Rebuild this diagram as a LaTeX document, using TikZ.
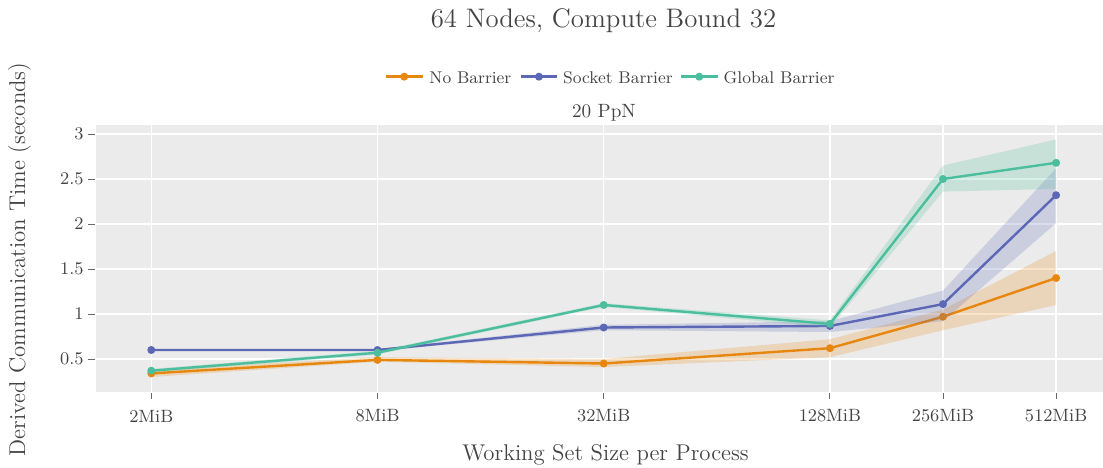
\documentclass[tikz,border=0pt]{standalone}
\usepackage{tikz}
\usetikzlibrary{positioning}

\definecolor{txtgray}{HTML}{444444}
\definecolor{panelbg}{HTML}{EBEBEB}
\definecolor{nobar}{HTML}{E8870E}
\definecolor{sockbar}{HTML}{5C67B5}
\definecolor{globbar}{HTML}{4BBE9D}

\begin{document}
\begin{tikzpicture}[x=0.5pt, y=0.5pt,
    lbl/.style={text=txtgray, inner sep=0pt},
    ticklbl/.style={lbl, font=\fontsize{8.9}{10}\selectfont},
    leglbl/.style={lbl, font=\fontsize{8.5}{10}\selectfont, anchor=base west},
    gridln/.style={white, line width=0.75pt},
    tickln/.style={txtgray!80, line width=0.5pt},
    series/.style={line width=1.2pt, line join=round},
    band/.style={opacity=0.22},
    dot/.style={radius=2pt}
]
\useasboundingbox (0,0) rectangle (1103,467);

% titles
\node[lbl, font=\fontsize{13.4}{15}\selectfont, anchor=base] (title) at (603.5,439) {64 Nodes, Compute Bound 32};
\node[lbl, font=\fontsize{9.6}{11}\selectfont, anchor=base] (facet) at (604,349.7) {20 PpN};

% legend
\node[leglbl] (lgnone) at (429,384) {No Barrier};
\node[leglbl] (lgsock) at (562.7,384) {Socket Barrier};
\node[leglbl] (lgglob) at (723.3,384) {Global Barrier};
\foreach \x/\c in {386/nobar, 520.7/sockbar, 681/globbar} {
  \draw[series, \c] (\x,390.3) -- ++(36.5,0);
  \fill[\c] (\x+18.25,390.3) circle[dot];
}

% axis labels
\node[lbl, font=\fontsize{11.4}{13}\selectfont, anchor=base] (xlab) at (605.5,7) {Working Set Size per Process};
\node[lbl, font=\fontsize{11.4}{13}\selectfont, anchor=base, rotate=90] (ylab) at (25,207.5) {Derived Communication Time (seconds)};

% panel
\fill[panelbg] (96,75.3) rectangle (1103,342);

\begin{scope}[shift={(19.1pt,31.5pt)}, x=56.55pt, y=45pt]
  % grid and ticks
  \foreach \k/\t in {1/2MiB, 3/8MiB, 5/32MiB, 7/128MiB, 8/256MiB, 9/512MiB} {
    \draw[gridln] (\k,0.137) -- (\k,3.1);
    \draw[tickln] (\k,0.12) -- ++(0,-3pt);
    \node[ticklbl] (xt\k) at (\k,-0.133) {\t};
  }
  \foreach \v in {0.5,1,1.5,2,2.5,3} {
    \draw[gridln] (0.511,\v) -- (9.41,\v);
    \draw[tickln] (0.5,\v) -- ++(-3.5pt,0);
    \node[ticklbl, anchor=east] (yt\v) at (0.405,\v) {\v};
  }

  % No Barrier
  \fill[nobar, band] (1,0.38) -- (3,0.52) -- (5,0.50) -- (7,0.72) -- (8,1.05) -- (9,1.70)
    -- (9,1.10) -- (8,0.82) -- (7,0.52) -- (5,0.41) -- (3,0.47) -- (1,0.30) -- cycle;
  \draw[series, nobar] (1,0.34) -- (3,0.49) -- (5,0.45) -- (7,0.62) -- (8,0.97) -- (9,1.40);
  \foreach \k/\v in {1/0.34, 3/0.49, 5/0.45, 7/0.62, 8/0.97, 9/1.40}
    \fill[nobar] (\k,\v) circle[dot];

  % Socket Barrier
  \fill[sockbar, band] (1,0.61) -- (3,0.61) -- (5,0.88) -- (7,0.92) -- (8,1.26) -- (9,2.62)
    -- (9,2.01) -- (8,0.92) -- (7,0.80) -- (5,0.82) -- (3,0.59) -- (1,0.59) -- cycle;
  \draw[series, sockbar] (1,0.60) -- (3,0.60) -- (5,0.85) -- (7,0.867) -- (8,1.11) -- (9,2.32);
  \foreach \k/\v in {1/0.60, 3/0.60, 5/0.85, 7/0.867, 8/1.11, 9/2.32}
    \fill[sockbar] (\k,\v) circle[dot];

  % Global Barrier
  \fill[globbar, band] (1,0.39) -- (3,0.59) -- (5,1.12) -- (7,0.93) -- (8,2.65) -- (9,2.94)
    -- (9,2.39) -- (8,2.36) -- (7,0.85) -- (5,1.08) -- (3,0.55) -- (1,0.35) -- cycle;
  \draw[series, globbar] (1,0.37) -- (3,0.57) -- (5,1.10) -- (7,0.89) -- (8,2.50) -- (9,2.68);
  \foreach \k/\v in {1/0.37, 3/0.57, 5/1.10, 7/0.89, 8/2.50, 9/2.68}
    \fill[globbar] (\k,\v) circle[dot];
\end{scope}
\end{tikzpicture}
\end{document}
